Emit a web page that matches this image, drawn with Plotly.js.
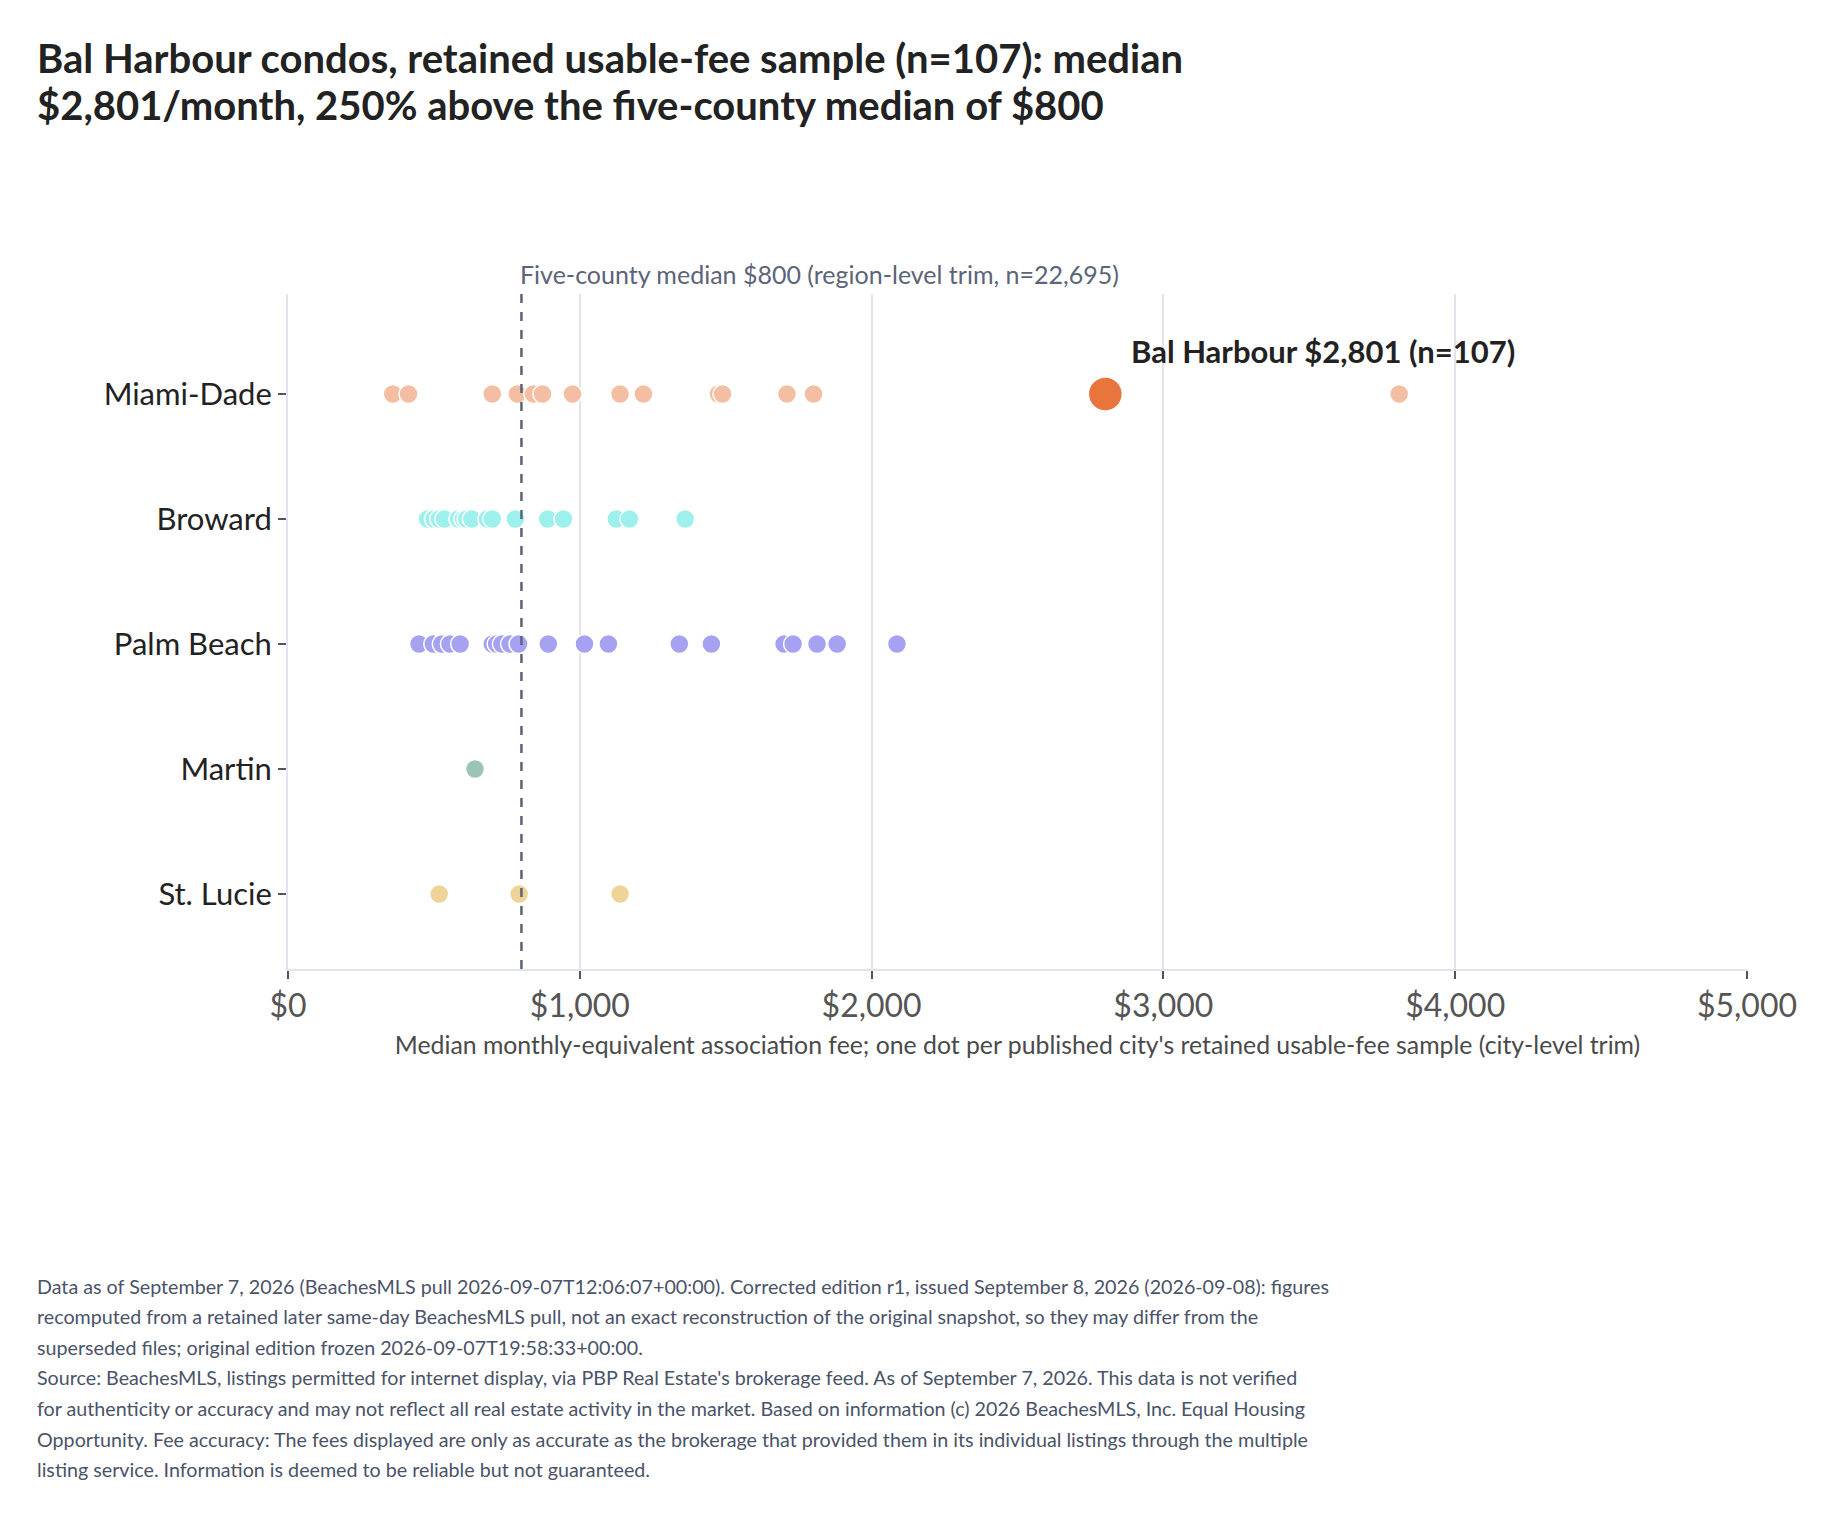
<!DOCTYPE html>
<html>
<head>
<meta charset="utf-8">
<script src="https://cdn.plot.ly/plotly-3.0.1.min.js"></script>
<style>
  html, body { margin: 0; padding: 0; background: #fff; }
  #plot { width: 1830px; height: 1517px; }
</style>
</head>
<body>
<div id="plot"></div>
<script>
// Counties, top to bottom
const counties = ['Miami-Dade', 'Broward', 'Palm Beach', 'Martin', 'St. Lucie']

// One value per published city (median monthly-equivalent fee, $)
const miamiDade = [359, 413, 700, 786, 841, 872, 975, 1138, 1218, 1475, 1489, 1710, 1801, 3808]
const broward = [478, 500, 518, 536, 584, 601, 612, 630, 683, 700, 779, 890, 944, 1125, 1170, 1361]
const palmBeach = [449, 498, 527, 555, 590, 700, 715, 733, 761, 790, 892, 1016, 1098, 1341, 1451, 1700, 1731, 1813, 1882, 2087]
const martin = [641]
const stLucie = [518, 792, 1138]

const countyValues = [miamiDade, broward, palmBeach, martin, stLucie]
const countyColors = ['#F4BEA3', '#9DF0EB', '#A6A2F1', '#9BC4B4', '#EED597']

// Highlighted city
const highlightCity = 'Bal Harbour'
const highlightCounty = 'Miami-Dade'
const highlightValue = 2801
const highlightN = 107

const regionMedian = 800
const regionN = '22,695'

const xTicks = [0, 1000, 2000, 3000, 4000, 5000]
const xTickLabels = ['$0', '$1,000', '$2,000', '$3,000', '$4,000', '$5,000']

const titleLines = [
  'Bal Harbour condos, retained usable-fee sample (n=107): median',
  '$2,801/month, 250% above the five-county median of $800'
]

const footerLines = [
  'Data as of September 7, 2026 (BeachesMLS pull 2026-09-07T12:06:07+00:00). Corrected edition r1, issued September 8, 2026 (2026-09-08): figures',
  'recomputed from a retained later same-day BeachesMLS pull, not an exact reconstruction of the original snapshot, so they may differ from the',
  'superseded files; original edition frozen 2026-09-07T19:58:33+00:00.',
  "Source: BeachesMLS, listings permitted for internet display, via PBP Real Estate's brokerage feed. As of September 7, 2026. This data is not verified",
  'for authenticity or accuracy and may not reflect all real estate activity in the market. Based on information (c) 2026 BeachesMLS, Inc. Equal Housing',
  'Opportunity. Fee accuracy: The fees displayed are only as accurate as the brokerage that provided them in its individual listings through the multiple',
  'listing service. Information is deemed to be reliable but not guaranteed.'
]

const FONT = 'Lato, "Open Sans", sans-serif'

// plot area in pixels, used to place page-level text
const W = 1830, H = 1517
const M = {l: 288, r: 83, t: 294, b: 548}
const px2x = px => (px - M.l) / (W - M.l - M.r)
const px2y = py => (H - M.b - py) / (H - M.t - M.b)

let data = []

for (let [i, county] of counties.entries()) {
  let vals = countyValues[i]
  data.push({
    type: 'scatter',
    mode: 'markers',
    name: county,
    x: vals,
    y: vals.map(() => county),
    marker: {size: 19, color: countyColors[i], line: {color: '#fff', width: 1.5}},
    hoverinfo: 'x+y'
  })
}

// Bal Harbour, drawn last so it sits on top
data.push({
  type: 'scatter',
  mode: 'markers',
  name: highlightCity,
  x: [highlightValue],
  y: [highlightCounty],
  marker: {size: 34, color: '#E8753C', line: {color: '#fff', width: 1.5}},
  hoverinfo: 'x+y'
})

let annotations = [
  {
    x: highlightValue, y: highlightCounty, xref: 'x', yref: 'y',
    text: '<b>' + highlightCity + ' $2,801 (n=' + highlightN + ')</b>',
    showarrow: false, xanchor: 'left', yanchor: 'bottom',
    xshift: 24, yshift: 22,
    font: {family: FONT, size: 31, color: '#222'}
  },
  {
    x: regionMedian, y: 1, xref: 'x', yref: 'paper',
    text: 'Five-county median $800 (region-level trim, n=' + regionN + ')',
    showarrow: false, xanchor: 'left', yanchor: 'bottom',
    xshift: -3, yshift: 3,
    font: {family: FONT, size: 25, color: '#5B6478'}
  }
]

// Title, two lines placed separately for tighter leading
for (let [i, line] of titleLines.entries()) {
  annotations.push({
    x: px2x(35), y: px2y(58 + i * 47), xref: 'paper', yref: 'paper',
    text: '<b>' + line + '</b>', showarrow: false,
    xanchor: 'left', yanchor: 'middle',
    font: {family: FONT, size: 40, color: '#222'}
  })
}

// Footer notes, one annotation per line to get the wider line spacing
for (let [i, line] of footerLines.entries()) {
  annotations.push({
    x: px2x(35), y: px2y(1286 + i * 30.6), xref: 'paper', yref: 'paper',
    text: line, showarrow: false,
    xanchor: 'left', yanchor: 'middle',
    font: {family: FONT, size: 19.7, color: '#4A5368'}
  })
}

let layout = {
  width: W,
  height: H,
  showlegend: false,
  paper_bgcolor: '#fff',
  plot_bgcolor: '#fff',
  margin: M,
  font: {family: FONT, color: '#222'},
  xaxis: {
    range: [0, 5000],
    tickvals: xTicks,
    ticktext: xTickLabels,
    showgrid: true,
    gridcolor: '#E3E3EF',
    gridwidth: 2,
    zeroline: false,
    showline: true,
    linecolor: '#E3E3EF',
    linewidth: 2,
    ticks: 'outside',
    ticklen: 8,
    tickwidth: 2,
    tickcolor: '#555',
    tickfont: {family: FONT, size: 32, color: '#555'},
    title: {
      text: "Median monthly-equivalent association fee; one dot per published city's retained usable-fee sample (city-level trim)",
      font: {family: FONT, size: 24.8, color: '#4A4A4A'},
      standoff: 13
    }
  },
  yaxis: {
    type: 'category',
    categoryorder: 'array',
    categoryarray: counties,
    range: [4.6, -0.8],
    showgrid: false,
    zeroline: false,
    showline: true,
    linecolor: '#E3E3EF',
    linewidth: 2,
    ticks: 'outside',
    ticklen: 8,
    tickwidth: 2,
    tickcolor: '#555',
    tickfont: {family: FONT, size: 31, color: '#222'}
  },
  shapes: [
    {
      type: 'line', xref: 'x', yref: 'paper',
      x0: regionMedian, x1: regionMedian, y0: 0, y1: 1,
      line: {color: '#5B6478', width: 2.5, dash: 'dash'}
    }
  ],
  annotations: annotations
}

Plotly.newPlot('plot', data, layout, {displayModeBar: false, responsive: false})
</script>
</body>
</html>
